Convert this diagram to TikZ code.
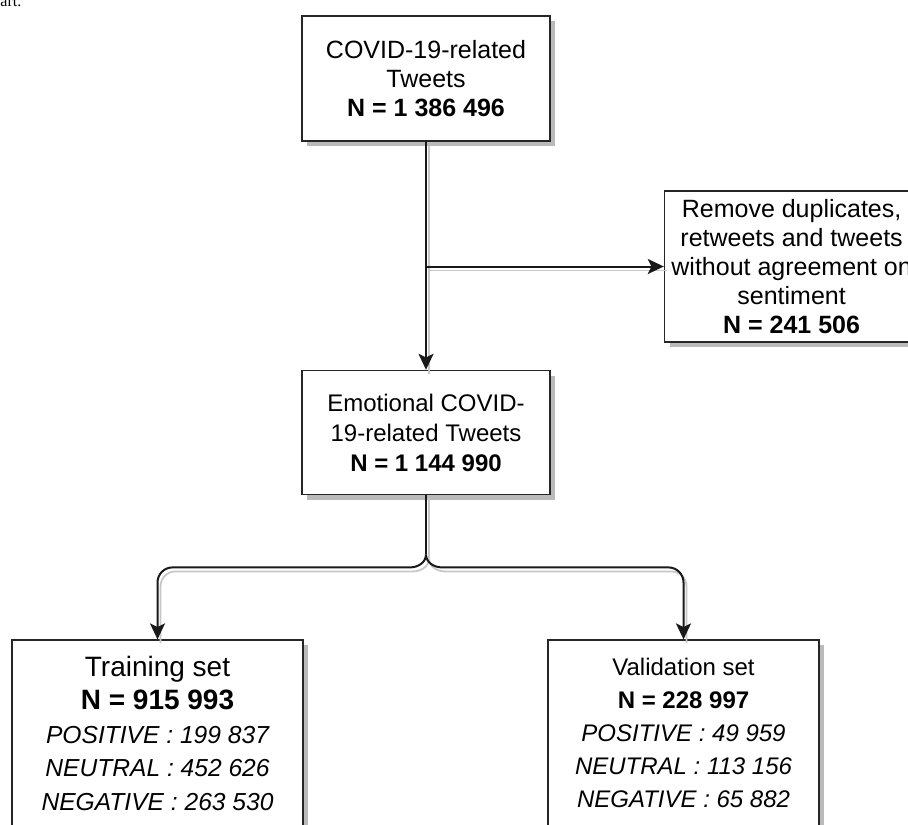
\documentclass[tikz,border=0pt]{standalone}
\usepackage{fontspec}
\setmainfont{Liberation Sans}
\newfontfamily\cutfont{Liberation Serif}
\usetikzlibrary{positioning,shadows,arrows.meta}

\begin{document}
\begin{tikzpicture}[>={Stealth[length=8pt,width=7.5pt,inset=1.8pt]}, node distance=72pt,
    box/.style={rectangle,draw=black!85,line width=0.8pt,fill=white,align=center,inner sep=0pt,
      drop shadow={shadow xshift=2.5pt,shadow yshift=-2.5pt,fill=black!45,opacity=0.6}},
    link/.style={->,line width=1pt,draw=black!90,
      preaction={draw=black!22,-,line width=0.9pt,transform canvas={shift={(1.5pt,-2pt)}}}}]
      \useasboundingbox (0,0) rectangle (454pt,-412pt);
      \clip (0,0) rectangle (454pt,-412pt);

      % Cut caption
      \node[anchor=north west,inner sep=0pt,font=\cutfont\fontsize{8}{9}\selectfont] (cut) at (0pt,1.5pt) {art.};

      % Main branch
      \node[box,minimum width=124pt,minimum height=62.5pt,font=\fontsize{12.5}{14.5}\selectfont] (tweets) at (213pt,-39.25pt) {COVID-19-related\\Tweets\\\textbf{N = 1 386 496}};
      \node[box,minimum width=124pt,minimum height=62pt,font=\fontsize{12}{15}\selectfont,below=114pt of tweets] (emotional) {Emotional COVID-\\19-related Tweets\\\textbf{N = 1 144 990}};

      % Removed tweets
      \node[box,minimum width=127pt,minimum height=75.5pt,font=\fontsize{12.5}{14.5}\selectfont,right=56.5pt of tweets,yshift=-94pt] (removed) {Remove duplicates,\\retweets and tweets\\without agreement on\\sentiment\\\textbf{N = 241 506}};

      % Split sets
      \node[box,minimum width=145.5pt,minimum height=93pt,font=\fontsize{12.3}{16.8}\selectfont\itshape,below=of emotional,xshift=-134.25pt] (training) {{\upshape\fontsize{14}{16.8}\selectfont Training set}\\{\upshape\bfseries\fontsize{14}{16.8}\selectfont N = 915 993}\\POSITIVE : 199 837\\NEUTRAL : 452 626\\NEGATIVE : 263 530};
      \node[box,minimum width=135.5pt,minimum height=93pt,font=\fontsize{12}{16.5}\selectfont\itshape,below=of emotional,xshift=128.75pt] (validation) {{\upshape Validation set}\\{\upshape\bfseries N = 228 997}\\POSITIVE : 49 959\\NEUTRAL : 113 156\\NEGATIVE : 65 882};

      % Edges
      \coordinate (split) at (tweets.south |- removed.west);
      \coordinate[below=29.5pt of emotional.south] (fork);
      \draw[link] (tweets) -- (emotional);
      \draw[link] (split) -- (removed);
      \draw[link,-] (emotional) -- (fork);
      \draw[link] (fork) to[out=-90,in=0] ++(-8pt,-6.5pt) [rounded corners=7.5pt] -| (training);
      \draw[link] (fork) to[out=-90,in=180] ++(8pt,-6.5pt) [rounded corners=7.5pt] -| (validation);
    \end{tikzpicture}
\end{document}
